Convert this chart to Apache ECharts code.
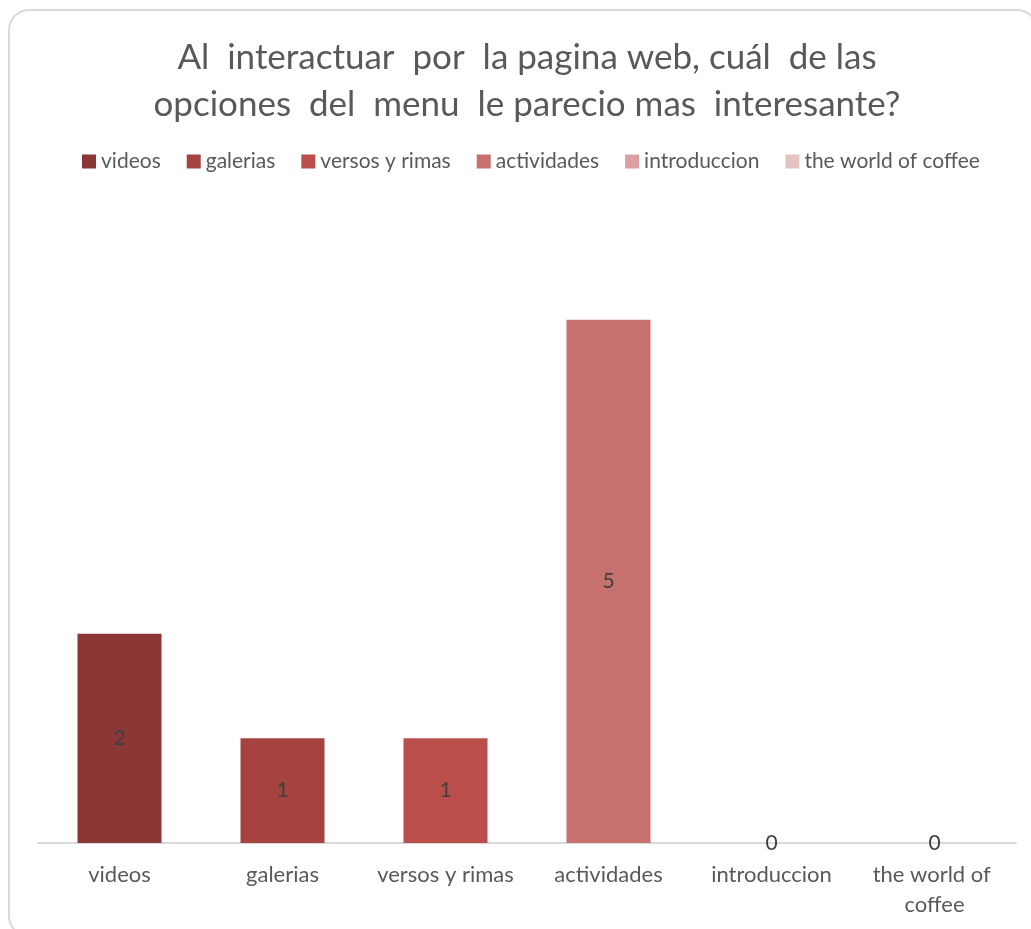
<!DOCTYPE html>
<html>
<head>
<meta charset="utf-8">
<script src="https://cdn.jsdelivr.net/npm/echarts@6/dist/echarts.min.js"></script>
<style>
  html, body { margin: 0; padding: 0; background: #fff; }
  #chart { width: 1031px; height: 929px; }
</style>
</head>
<body>
<div id="chart"></div>
<script>
  // datos
  var categorias = ['videos', 'galerias', 'versos y rimas', 'actividades', 'introduccion', 'the world of coffee'];
  var valores = [2, 1, 1, 5, 0, 0];
  var colores = ['#8b3735', '#a54340', '#b94e4b', '#c7716f', '#d9a09f', '#e5c2c3'];
  var titulo = 'Al  interactuar  por  la pagina web, cuál  de las\nopciones  del  menu  le parecio mas  interesante?';

  var fuente = 'Lato';

  // una serie por categoria para que la leyenda muestre cada opcion
  var series = categorias.map(function (nombre, i) {
    var data = categorias.map(function (c, j) { return j === i ? valores[i] : '-'; });
    return {
      name: nombre,
      type: 'bar',
      stack: 'total',
      barWidth: 84,
      data: data,
      itemStyle: { color: colores[i] },
      label: {
        show: true,
        position: 'inside',
        color: '#404040',
        fontSize: 21,
        fontFamily: fuente
      }
    };
  });

  var myChart = echarts.init(document.getElementById('chart'));
  myChart.setOption({
    animation: false,
    graphic: [{
      type: 'rect',
      shape: { x: 9, y: 10, width: 1028, height: 926, r: 20 },
      style: { fill: 'none', stroke: '#d9d9d9', lineWidth: 2 },
      z: -1
    }],
    title: {
      text: titulo,
      left: 522,
      textAlign: 'center',
      top: 29,
      textStyle: {
        color: '#595959',
        fontSize: 35,
        fontWeight: 'normal',
        fontFamily: fuente,
        lineHeight: 47
      }
    },
    legend: {
      top: 146,
      left: 77,
      itemWidth: 14,
      itemHeight: 14,
      itemGap: 26,
      icon: 'rect',
      textStyle: { color: '#595959', fontSize: 21, fontFamily: fuente },
      data: categorias
    },
    grid: {
      left: 38,
      right: 15,
      top: 215,
      bottom: 86
    },
    xAxis: {
      type: 'category',
      data: categorias,
      axisLine: { lineStyle: { color: '#d9d9d9', width: 2 } },
      axisTick: { show: false },
      axisLabel: {
        color: '#595959',
        fontSize: 22,
        fontFamily: fuente,
        margin: 17,
        interval: 0,
        width: 155,
        overflow: 'break',
        lineHeight: 30
      }
    },
    yAxis: {
      type: 'value',
      min: 0,
      max: 6,
      interval: 1,
      show: false
    },
    series: series
  });
</script>
</body>
</html>
